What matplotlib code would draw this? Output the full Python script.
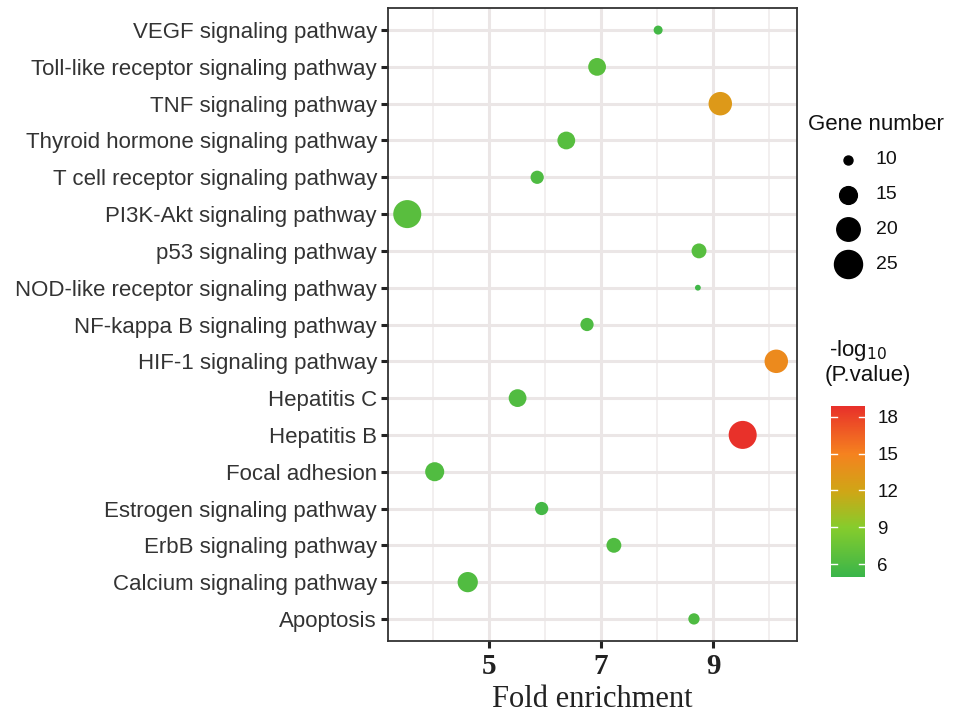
import numpy as np
import matplotlib
matplotlib.use('Agg')
import matplotlib.pyplot as plt
from matplotlib.colors import LinearSegmentedColormap, Normalize
from matplotlib.lines import Line2D

# data, listed top to bottom as in the chart
pathways = ['VEGF signaling pathway', 'Toll-like receptor signaling pathway', 'TNF signaling pathway',
            'Thyroid hormone signaling pathway', 'T cell receptor signaling pathway',
            'PI3K-Akt signaling pathway', 'p53 signaling pathway', 'NOD-like receptor signaling pathway',
            'NF-kappa B signaling pathway', 'HIF-1 signaling pathway', 'Hepatitis C', 'Hepatitis B',
            'Focal adhesion', 'Estrogen signaling pathway', 'ErbB signaling pathway',
            'Calcium signaling pathway', 'Apoptosis']
fold_enrichment = [8.02, 6.93, 9.13, 6.38, 5.86, 3.54, 8.75, 8.73, 6.75, 10.13, 5.51, 9.53, 4.03, 5.94, 7.23, 4.62, 8.66]
gene_number = [10, 15, 20, 15, 12, 25, 13, 9, 12, 20, 15, 25, 16, 12, 13, 17, 11]
neg_log_p = [5.5, 6.6, 13.0, 6.5, 6.0, 6.6, 6.5, 5.3, 6.0, 14.3, 6.2, 18.8, 6.2, 5.6, 6.1, 6.2, 6.0]

size_breaks = [10, 15, 20, 25]
color_ticks = [6, 9, 12, 15, 18]

W, H = 954, 725
fig = plt.figure(figsize=(W / 100, H / 100), dpi=100)
ax = fig.add_axes([388 / W, 1 - 641 / H, (797 - 388) / W, (641 - 8) / H])

cmap = LinearSegmentedColormap.from_list('gr', [(0.0, '#3ab54a'), (0.29, '#86cc2c'), (0.5, '#cfa616'),
                                                (0.72, '#f5821f'), (1.0, '#e8302a')])
norm = Normalize(vmin=4.95, vmax=18.87)


def marker_size(n):
    d_px = np.sqrt(81 + (np.asarray(n) - 10) * 47.0)
    return (d_px * 0.72) ** 2


ypos = np.arange(len(pathways))[::-1]
ax.scatter(fold_enrichment, ypos, s=marker_size(gene_number), c=neg_log_p, cmap=cmap, norm=norm,
           edgecolors='none', zorder=3)

ax.set_xlim(3.196, 10.5)
ax.set_ylim(-0.6, len(pathways) - 0.4)
ax.set_xticks([5, 7, 9])
ax.set_xticks([4, 6, 8, 10], minor=True)
ax.set_yticks(ypos)
ax.set_yticklabels(pathways, fontsize=16, color='#333333', family='Liberation Sans')
for lab in ax.get_xticklabels():
    lab.set_family('Liberation Serif')
    lab.set_fontsize(21)
    lab.set_fontweight('bold')
    lab.set_color('#222222')
ax.set_xlabel('Fold enrichment', family='Liberation Serif', fontsize=22, color='#222222', labelpad=4)
ax.grid(True, which='major', color='#ebe6e6', linewidth=2.2, zorder=0)
ax.grid(True, which='minor', axis='x', color='#f0ecec', linewidth=1.2, zorder=0)
ax.tick_params(axis='both', which='major', length=5, width=2.2, color='#222222')
ax.tick_params(axis='x', which='minor', length=0)
ax.tick_params(axis='y', pad=3)
for sp in ax.spines.values():
    sp.set_color('#333333')
    sp.set_linewidth(1.3)
ax.set_axisbelow(True)

# size legend, drawn by hand in figure pixels
fig.text(808 / W, 1 - 125 / H, 'Gene number', family='Liberation Sans', fontsize=16, va='center',
         color='#111111')
for i, b in enumerate(size_breaks):
    yy = 1 - (160 + i * 34.7) / H
    fig.add_artist(Line2D([848 / W], [yy], transform=fig.transFigure, linestyle='none', marker='o',
                          color='black', markersize=np.sqrt(marker_size(b))))
    fig.text(876 / W, yy, str(b), family='Liberation Sans', fontsize=14, va='center', color='#111111')

# colour bar
cax = fig.add_axes([831 / W, 1 - 577 / H, 34 / W, 171 / H])
cb = fig.colorbar(plt.cm.ScalarMappable(norm=norm, cmap=cmap), cax=cax, ticks=color_ticks)
cb.outline.set_visible(False)
cax.tick_params(length=0, labelsize=13.5, pad=9, labelcolor='#111111')
for lab in cax.get_yticklabels():
    lab.set_family('Liberation Sans')
for t in color_ticks:
    cax.plot([0, 0.18], [t, t], color='white', lw=1, transform=cax.get_yaxis_transform())
    cax.plot([0.82, 1], [t, t], color='white', lw=1, transform=cax.get_yaxis_transform())
fig.text(829 / W, 1 - 350 / H, '-log$_{10}$', family='Liberation Sans', fontsize=16,
         va='center', ha='left', color='#111111')
fig.text(825 / W, 1 - 375 / H, '(P.value)', family='Liberation Sans', fontsize=16,
         va='center', ha='left', color='#111111')

fig.savefig('out.png', dpi=100)
